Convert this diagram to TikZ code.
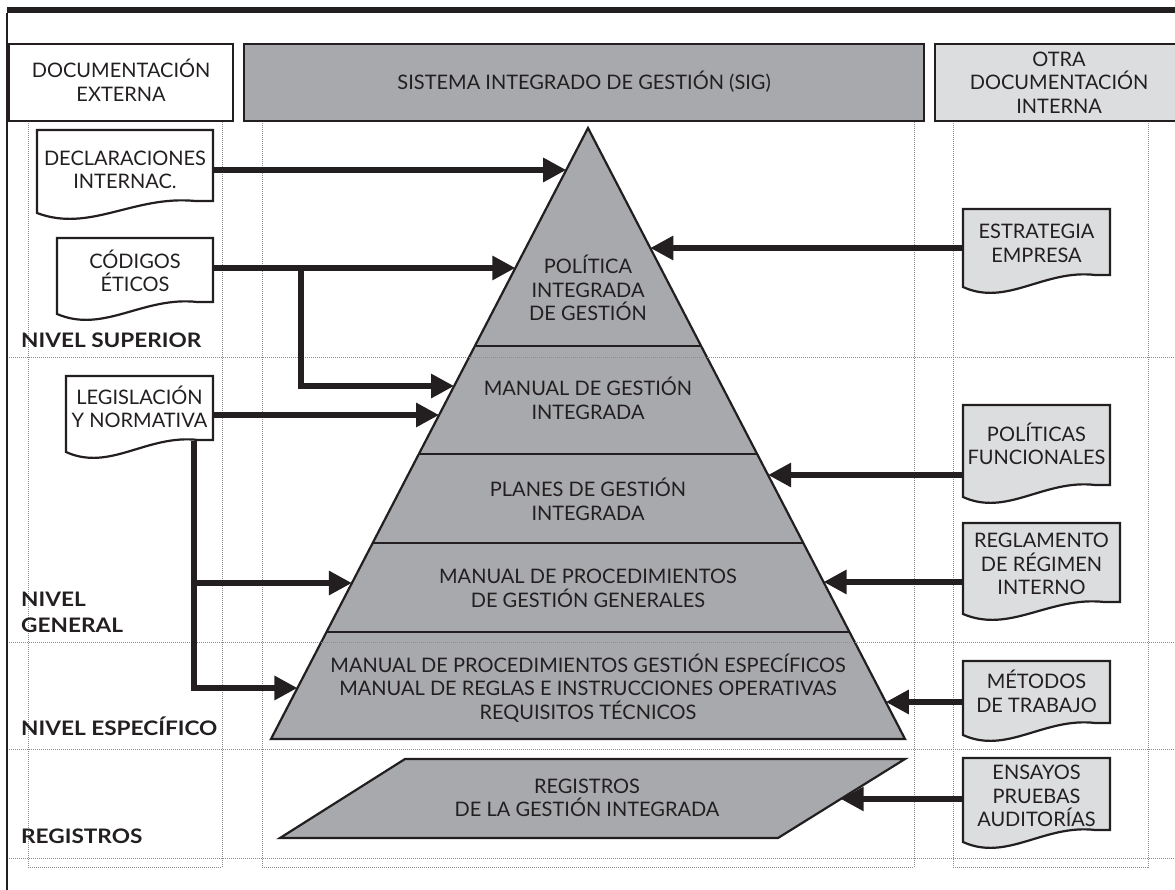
\documentclass[tikz,border=0pt]{standalone}
\usepackage{fontspec}
\setmainfont{Lato}
\newfontfamily\lvlfont[FakeStretch=1.13]{Lato}
\usetikzlibrary{arrows.meta,calc}
\definecolor{ink}{HTML}{231F20}
\definecolor{sig}{HTML}{A7A9AC}
\definecolor{lightg}{HTML}{DCDDDF}
\definecolor{gridc}{HTML}{8C8C8C}
\newcommand\docpath[5]{%
  \filldraw[docline, fill=#5] (#1,#2) -- (#3,#2) -- (#3,#4) -- ({#3-0.1*(#3-#1)},#4)
   .. controls ({#1+0.55*(#3-#1)},{#4-6}) and ({#1+0.3*(#3-#1)},{#4+32}) .. (#1,{#4+12}) -- cycle;}
\begin{document}
\begin{tikzpicture}[x=1pt,y=-1pt,
  txt/.style={font=\fontsize{20}{23.5}\selectfont, align=center, inner sep=0pt, text=ink, text depth=0pt},
  l1/.style={txt,text height=14.3pt},
  l2/.style={txt,text height=37.8pt},
  l3/.style={txt,text height=61.3pt},
  lvl/.style={font=\lvlfont\fontsize{20}{26}\selectfont\bfseries, align=left, inner sep=0pt, text=ink, anchor=west, text height=14.3pt, text depth=0pt},
  hdr/.style={draw=ink, line width=2.2pt, anchor=north west},
  docline/.style={draw=ink, line width=2.2pt, line join=miter},
  gridline/.style={draw=gridc, line width=0.7pt, dash pattern=on 1pt off 1pt},
  arr/.style={draw=ink, line width=5.8pt, -{Triangle[length=23pt,width=23pt]}},
  pyr/.style={draw=ink, fill=sig, line width=2.2pt},
  pyrline/.style={draw=ink, line width=2.2pt},
]
\useasboundingbox (0,0) rectangle (1175,890);
\fill[white] (0,0) rectangle (1175,890);

% pyramid and records
\coordinate (apex) at (588,128);
\coordinate (bl) at (271,739);
\coordinate (br) at (905,739);
\filldraw[pyr] (apex) -- (bl) -- (br) -- cycle;
\foreach \f in {0.3568,0.5336,0.6792,0.8249}
  \draw[pyrline] ($(apex)!\f!(bl)$) -- ($(apex)!\f!(br)$);
\coordinate (pTL) at (405,759);
\coordinate (pTR) at (905,759);
\coordinate (pBR) at (778,838);
\coordinate (pBL) at (280,838);
\filldraw[pyr] (pTL) -- (pTR) -- (pBR) -- (pBL) -- cycle;

% dotted grid
\draw[gridline] (28,121) rectangle (222,867);
\draw[gridline] (262,121) rectangle (914,867);
\draw[gridline] (953,121) rectangle (1148,867);
\foreach \y in {357,642,749,858} \draw[gridline] (7,\y) -- (1175,\y);

% frame
\fill[ink] (7,7) rectangle (1182,13);
\draw[ink, line width=2pt] (7,13) -- (7,890);

% header boxes
\node[hdr, fill=white, l2, minimum width=224pt, minimum height=77pt] (docext) at (8,43) {DOCUMENTACIÓN\\EXTERNA};
\node[hdr, fill=sig, l1, minimum width=680pt, minimum height=77pt] (sigbox) at (243,43) {SISTEMA INTEGRADO DE GESTIÓN (SIG)};
\node[hdr, fill=lightg, l3, minimum width=248pt, minimum height=77pt] (otra) at (934,43) {OTRA\\DOCUMENTACIÓN\\INTERNA};

% document shapes
\docpath{37}{130}{213}{201}{white}
\docpath{57}{238}{213}{302}{white}
\docpath{66}{376}{213}{440}{white}
\docpath{963}{209}{1110}{275}{lightg}
\docpath{963}{405}{1110}{485}{lightg}
\docpath{963}{523}{1120}{602}{lightg}
\docpath{963}{661}{1110}{723}{lightg}
\docpath{963}{758}{1110}{830}{lightg}

\node[l2, minimum width=176pt] (decl) at (125,170) {DECLARACIONES\\INTERNAC.};
\node[l2, minimum width=156pt] (cod) at (135,273) {CÓDIGOS\\ÉTICOS};
\node[l2, minimum width=147pt] (leg) at (139.5,409) {LEGISLACIÓN\\Y NORMATIVA};
\node[l2, minimum width=147pt] (estr) at (1036.5,243.5) {ESTRATEGIA\\EMPRESA};
\node[l2, minimum width=147pt] (polf) at (1036.5,446) {POLÍTICAS\\FUNCIONALES};
\node[l3, minimum width=157pt] (regl) at (1041.5,564) {REGLAMENTO\\DE RÉGIMEN\\INTERNO};
\node[l2, minimum width=147pt] (met) at (1036.5,693.5) {MÉTODOS\\DE TRABAJO};
\node[l3, minimum width=147pt] (ens) at (1036.5,796) {ENSAYOS\\PRUEBAS\\AUDITORÍAS};

% arrow targets on pyramid edges
\coordinate (tDecl) at ($(apex)!0.0687!(bl)$);
\coordinate (tCod) at ($(apex)!0.2291!(bl)$);
\coordinate (tCod2) at ($(apex)!0.4223!(bl)$);
\coordinate (tLeg) at ($(apex)!0.4697!(bl)$);
\coordinate (tLeg2) at ($(apex)!0.7447!(bl)$);
\coordinate (tLeg3) at ($(apex)!0.9165!(bl)$);
\coordinate (tEstr) at ($(apex)!0.1964!(br)$);
\coordinate (tPol) at ($(apex)!0.5679!(br)$);
\coordinate (tReg) at ($(apex)!0.7430!(br)$);
\coordinate (tMet) at ($(apex)!0.9394!(br)$);
\coordinate (tEns) at ($(pTR)!0.506!(pBR)$);
\coordinate (jCod) at (301,268);
\coordinate (jLeg) at (194,441);

% connectors
\draw[arr] (decl.east |- tDecl) -- (tDecl);
\draw[arr] (cod.east |- tCod) -- (tCod);
\draw[arr] (jCod) |- (tCod2);
\draw[arr] (leg.east |- tLeg) -- (tLeg);
\draw[arr] (jLeg) |- (tLeg3);
\draw[arr] (jLeg |- tLeg2) -- (tLeg2);
\draw[arr] (estr.west |- tEstr) -- (tEstr);
\draw[arr] (polf.west |- tPol) -- (tPol);
\draw[arr] (regl.west |- tReg) -- (tReg);
\draw[arr] (met.west |- tMet) -- (tMet);
\draw[arr] (ens.west |- tEns) -- (tEns);

% pyramid texts
\node[l3] (pol) at (588,290) {POLÍTICA\\INTEGRADA\\DE GESTIÓN};
\node[l2] (mgi) at (588,400.5) {MANUAL DE GESTIÓN\\INTEGRADA};
\node[l2] (pgi) at (588,501.5) {PLANES DE GESTIÓN\\INTEGRADA};
\node[l2] (mpg) at (588,588.5) {MANUAL DE PROCEDIMIENTOS\\DE GESTIÓN GENERALES};
\node[l3] (mpe) at (588,688.5) {MANUAL DE PROCEDIMIENTOS GESTIÓN ESPECÍFICOS\\MANUAL DE REGLAS E INSTRUCCIONES OPERATIVAS\\REQUISITOS TÉCNICOS};
\node[l2] (regs) at (587,798) {REGISTROS\\DE LA GESTIÓN INTEGRADA};

% level labels
\node[lvl] (nsup) at (21,340) {NIVEL SUPERIOR};
\node[lvl, text height=40.3pt] (ngen) at (21,612) {NIVEL\\GENERAL};
\node[lvl] (nesp) at (21,728) {NIVEL ESPECÍFICO};
\node[lvl] (nreg) at (21,836) {REGISTROS};
\end{tikzpicture}
\end{document}
